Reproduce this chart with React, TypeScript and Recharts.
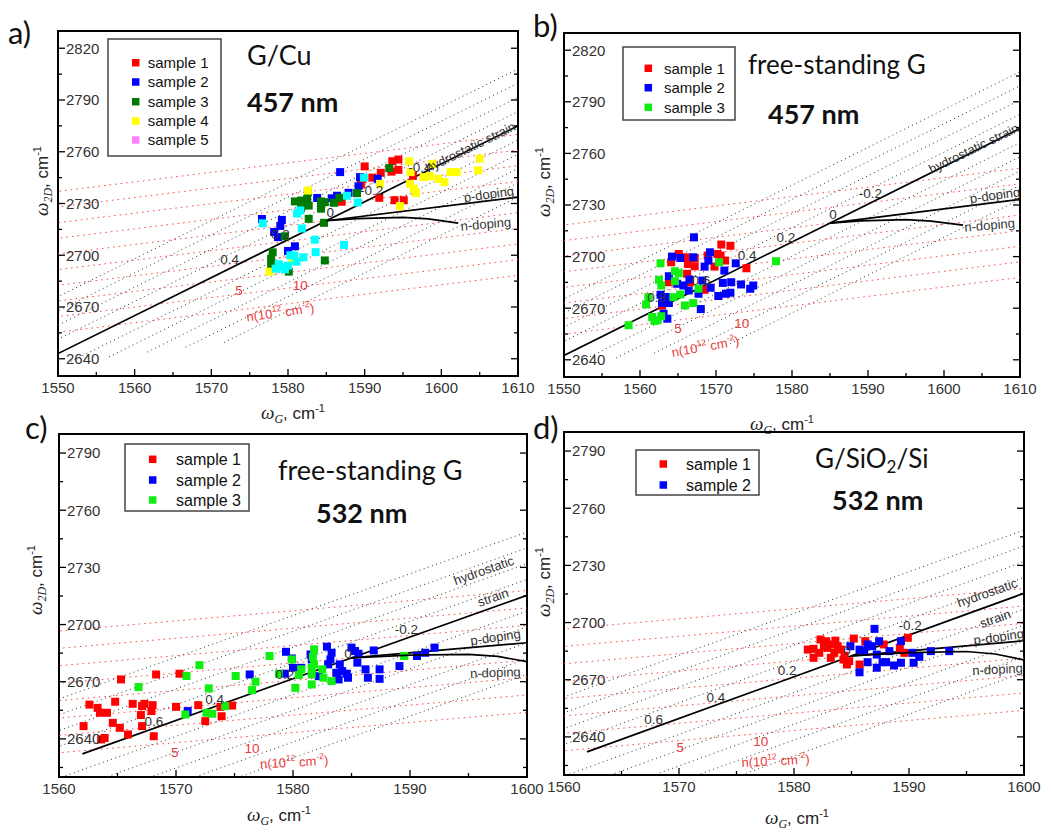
import React from 'react';
import {
  ScatterChart,
  Scatter,
  XAxis,
  YAxis,
  ZAxis,
  ReferenceLine,
  ReferenceArea,
  ReferenceDot,
} from 'recharts';

type Pt = [number, number];

const FONT_SANS = "'Liberation Sans', Arial, sans-serif";
const FONT_TITLE = "Lato, 'Open Sans', sans-serif";
const FONT_SERIF = "'Liberation Serif', 'DejaVu Serif', serif";

// axis ticks
const xTicks457 = [1550, 1555, 1560, 1565, 1570, 1575, 1580, 1585, 1590, 1595, 1600, 1605, 1610];
const xTicks532 = [1560, 1565, 1570, 1575, 1580, 1585, 1590, 1595, 1600];
const yTicks457 = [2640, 2655, 2670, 2685, 2700, 2715, 2730, 2745, 2760, 2775, 2790, 2805, 2820];
const yTicks532 = [2625, 2640, 2655, 2670, 2685, 2700, 2715, 2730, 2745, 2760, 2775, 2790];

// a) G/Cu, 457 nm
const cuSample1: Pt[] = [[1590.0, 2751.5], [1593.6, 2754.5], [1594.4, 2755.5], [1593.5, 2748.5], [1594.4, 2749.5], [1592.1, 2747.8], [1591.9, 2733.3], [1593.9, 2731.9], [1595.1, 2731.9], [1589.5, 2741], [1589.7, 2744], [1596.3, 2746], [1587, 2731], [1591, 2745]];
const cuSample2: Pt[] = [[1586.8, 2748.2], [1583.8, 2733.2], [1585.7, 2733], [1586.4, 2734.5], [1587.9, 2736.2], [1589.2, 2740], [1589.4, 2745.3], [1591.7, 2744.3], [1576.6, 2721], [1579.2, 2720.5], [1579, 2717], [1578.2, 2713.5], [1578.7, 2710.5], [1580.9, 2705.2], [1580, 2702.5]];
const cuSample3: Pt[] = [[1580.9, 2731.2], [1581.7, 2731.7], [1582.5, 2732.7], [1582.7, 2728.8], [1581.7, 2727.3], [1584.3, 2731.2], [1584.8, 2730.8], [1584.3, 2727], [1586, 2730.4], [1586.7, 2733.3], [1589, 2736], [1593.2, 2750.5], [1582.7, 2721.1], [1584.7, 2718.8], [1579.6, 2711], [1578, 2701.7], [1577.8, 2698], [1577.8, 2694], [1580.1, 2690.5], [1584.8, 2697], [1582.6, 2736.5]];
const cuSample4: Pt[] = [[1582.6, 2737.5], [1595.8, 2754.5], [1596, 2748.2], [1595.9, 2741.4], [1596.4, 2738.5], [1596.7, 2736.2], [1597.7, 2745.3], [1598.5, 2745.9], [1599.6, 2744.3], [1600.4, 2742.4], [1601.2, 2748.2], [1602, 2748.2], [1598.8, 2753], [1605, 2756], [1604.8, 2749.2], [1592, 2741.4], [1594.6, 2728.5], [1577.6, 2690.5], [1580.5, 2697]];
const cuSample5: Pt[] = [[1576.7, 2718.5], [1581.2, 2724.2], [1581.6, 2726], [1581.8, 2715.5], [1583.5, 2709], [1583.6, 2701.8], [1587.3, 2706], [1589.1, 2730.6], [1589.9, 2745], [1587.7, 2734.5], [1580.3, 2700], [1580.8, 2699.8], [1582, 2698.8], [1581.1, 2696.3], [1578.4, 2692.2], [1579, 2693], [1580, 2694], [1579.6, 2691.8], [1578.8, 2694.8]];

// b) free-standing G, 457 nm
const fs457Sample1: Pt[] = [[1570.7, 2707], [1571.9, 2706.3], [1565.1, 2701.5], [1566, 2699.6], [1566.3, 2695.7], [1567.2, 2699.2], [1567.2, 2694.4], [1564.1, 2696.7], [1568.9, 2700.6], [1570.2, 2701.5], [1570.6, 2700.6], [1571.2, 2697.7], [1569.8, 2694.2], [1574, 2693.2], [1563.8, 2685.1], [1566.6, 2685.1], [1568.5, 2680.7], [1562.9, 2671.5], [1566.2, 2690]];
const fs457Sample2: Pt[] = [[1567.1, 2711.2], [1564.2, 2700], [1565.3, 2699.2], [1567, 2699.6], [1569, 2697.7], [1568.5, 2694.2], [1569.2, 2702.5], [1572.6, 2696.1], [1571.1, 2691.9], [1563.8, 2688.6], [1564.9, 2684.2], [1565.7, 2683.2], [1566.4, 2680.3], [1566.5, 2686.7], [1568.2, 2686.1], [1567.7, 2678.4], [1569.3, 2681.9], [1570.9, 2684.7], [1572, 2685.1], [1573.3, 2683.8], [1574.5, 2681.3], [1574.9, 2683.2], [1570.3, 2677.1], [1571.3, 2678.4], [1571.9, 2679], [1568, 2669.5], [1562.7, 2677.8], [1563.4, 2676.5], [1562.9, 2673], [1563.8, 2673], [1563.1, 2666.8], [1563.6, 2663.9]];
const fs457Sample3: Pt[] = [[1558.5, 2660.1], [1560.8, 2672.2], [1561.1, 2676.4], [1561.6, 2664.9], [1562.3, 2663], [1562.8, 2665.3], [1561.9, 2662.6], [1562.5, 2686.5], [1562.8, 2683.2], [1562.7, 2696.1], [1564.6, 2691.5], [1565.1, 2690.3], [1564.6, 2685.7], [1564.4, 2676.4], [1565.3, 2678], [1565.9, 2671.6], [1567, 2673], [1567.7, 2681.3], [1570.4, 2696.7], [1577.9, 2697.3]];

// c) free-standing G, 532 nm
const fs532Sample1: Pt[] = [[1562.1, 2646.7], [1562.6, 2658], [1563.3, 2656.3], [1563.5, 2653.7], [1564.1, 2653.7], [1563.6, 2639.7], [1563.9, 2640.5], [1564.6, 2648.4], [1565.2, 2645.8], [1564.8, 2659.5], [1565.3, 2671.2], [1565.9, 2642.3], [1566.3, 2658.4], [1567.1, 2657.2], [1567.3, 2658.4], [1567, 2652.5], [1567.1, 2646.7], [1568, 2657.7], [1567.9, 2654.6], [1568.1, 2641.4], [1568.3, 2673.8], [1570, 2656.8], [1570.3, 2674.2], [1571.9, 2657.7], [1572.5, 2649.3], [1573.8, 2656.8], [1573.9, 2651.9], [1574.8, 2657.5]];
const fs532Sample2: Pt[] = [[1571, 2654.6], [1576.3, 2673.8], [1579.4, 2685.7], [1579.9, 2682.2], [1580, 2677.3], [1580.7, 2677.3], [1579.3, 2674.2], [1581.5, 2684.3], [1581.6, 2681.7], [1582.2, 2672.9], [1582.9, 2688.4], [1583.3, 2685.2], [1583.2, 2681.7], [1583, 2679.1], [1584, 2679.1], [1584.2, 2675.6], [1583.7, 2674.7], [1584.6, 2674.2], [1585, 2687.9], [1585.3, 2686.1], [1585.6, 2684.7], [1585.5, 2680], [1586.9, 2686.4], [1586.2, 2676.5], [1586.4, 2672.1], [1587.4, 2676.5], [1587.4, 2671.5], [1589.1, 2678.2], [1590.6, 2683.5], [1591.3, 2685.2], [1592.1, 2687.9], [1583.9, 2671.2], [1584.7, 2672.1]];
const fs532Sample3: Pt[] = [[1566.8, 2667.2], [1570.9, 2673], [1572, 2678.7], [1572.8, 2666.5], [1570.8, 2652.8], [1572.6, 2653.7], [1573.1, 2653.2], [1574.2, 2657.2], [1575.1, 2673], [1576.5, 2665.6], [1576.8, 2670], [1578, 2683.5], [1578.8, 2674.2], [1579.9, 2681.7], [1580.2, 2666.8], [1580.7, 2676.5], [1580.5, 2673.5], [1581.6, 2677.3], [1581.6, 2673.8], [1581.6, 2668.6], [1581.8, 2687], [1581.7, 2683], [1581.8, 2679.1], [1582.5, 2676.5], [1582.6, 2672.1], [1583.3, 2670.3], [1589.5, 2683.5]];

// d) G/SiO2/Si, 532 nm
const sioSample1: Pt[] = [[1581.2, 2685.8], [1581.7, 2686.2], [1581.7, 2681.5], [1582.3, 2691.1], [1582.8, 2690.2], [1582.9, 2686.7], [1582.2, 2684.1], [1583.2, 2688.5], [1583.5, 2684.1], [1583.8, 2687.6], [1584.1, 2685.8], [1583.2, 2681.5], [1584.3, 2680.6], [1584.6, 2678], [1584.8, 2679.7], [1585.2, 2691.6], [1586.2, 2690.2], [1587.8, 2688.5], [1585.7, 2678], [1589.2, 2686.7], [1589.9, 2692], [1589.6, 2684.1], [1582.6, 2688], [1583.6, 2690.5], [1584.4, 2682.6]];
const sioSample2: Pt[] = [[1587, 2696.7], [1584.9, 2687.6], [1585.7, 2685.8], [1586.1, 2685], [1586.4, 2688.5], [1586.8, 2687.6], [1587.4, 2690.2], [1588.3, 2685], [1587.2, 2683.2], [1587.7, 2679.2], [1586.4, 2679.2], [1587.2, 2676.3], [1588, 2679.2], [1585.7, 2673.9], [1588.7, 2677.5], [1589.3, 2678.9], [1589.3, 2690.2], [1590.4, 2678.9], [1590.3, 2684.1], [1590.9, 2682], [1591.9, 2685], [1593.5, 2685]];

// n-doping branches
const nDopingCu: Pt[] = [[1585, 2720], [1589, 2721.2], [1595, 2722], [1598.3, 2721.1], [1602.2, 2718.6]];
const nDopingFs457: Pt[] = [[1585, 2719.5], [1589, 2720.8], [1595, 2721.5], [1598.3, 2720.6], [1602.5, 2718.3]];
const nDopingFs532: Pt[] = [[1585, 2682.5], [1590, 2684], [1595, 2684.3], [1597.5, 2683.3], [1600, 2680.5]];
const nDopingSio: Pt[] = [[1585, 2682.5], [1590, 2684.2], [1595, 2684.8], [1597.5, 2683.5], [1600, 2680.4]];

// iso-strain (%) and iso-doping (1e12 cm^-2) levels of the mesh
const strainLevelsCu = [-0.8, -0.6, -0.4, -0.2, 0, 0.2, 0.4, 0.6, 0.8, 1.0];
const strainLevelsFs457 = [-0.4, -0.2, 0, 0.2, 0.4, 0.6, 0.8, 1.0];
const strainLevels532 = [-0.6, -0.4, -0.2, 0, 0.2, 0.4, 0.6, 0.8];
const dopingLevels = [-10, -7.5, -5, -2.5, 2.5, 5, 7.5, 10, 12.5];

type Model = {
  g0: number; // strain- and doping-free point
  w0: number;
  strainSlope: number; // d(w2D)/d(wG) for hydrostatic strain
  dopingSlope: number; // d(w2D)/d(wG) for p-doping
  gPerStrain: number; // G shift per 1 % strain
  gPerDoping: number; // G shift per 1e12 cm^-2
  strainFrom: number;
  strainTo: number;
};

const modelCu: Model = { g0: 1585, w0: 2720, strainSlope: 2.2, dopingSlope: 0.55, gPerStrain: 27.5, gPerDoping: 2, strainFrom: 1550, strainTo: 1610 };
const modelFs457: Model = { g0: 1585, w0: 2719.5, strainSlope: 2.2, dopingSlope: 0.55, gPerStrain: 27.5, gPerDoping: 2, strainFrom: 1550, strainTo: 1610 };
const model532: Model = { g0: 1585, w0: 2682.5, strainSlope: 2.19, dopingSlope: 0.53, gPerStrain: 27.5, gPerDoping: 2, strainFrom: 1562, strainTo: 1600 };

type Note = { x: number; y: number; text: string; kind: 'strain' | 'n' | 'unit' | 'line'; angle?: number };

const notesCu: Note[] = [
  { x: 1572.4, y: 2697.8, text: '0.4', kind: 'strain' },
  { x: 1579, y: 2712.3, text: '0.2', kind: 'strain' },
  { x: 1585.5, y: 2725, text: '0', kind: 'strain' },
  { x: 1590.9, y: 2737.5, text: '-0.2', kind: 'strain' },
  { x: 1597.2, y: 2751.1, text: '-0.4', kind: 'strain' },
  { x: 1573.6, y: 2679.5, text: '5', kind: 'n' },
  { x: 1581.6, y: 2682.4, text: '10', kind: 'n' },
  { x: 1579, y: 2666.9, text: '', kind: 'unit', angle: -8 },
  { x: 1603.8, y: 2762.7, text: 'hydrostatic strain', kind: 'line', angle: -26 },
  { x: 1606.2, y: 2735.4, text: 'p-doping', kind: 'line', angle: -8 },
  { x: 1605.8, y: 2718.1, text: 'n-doping', kind: 'line', angle: -5 },
];
const notesFs457: Note[] = [
  { x: 1590.3, y: 2736.7, text: '-0.2', kind: 'strain' },
  { x: 1585.4, y: 2724.7, text: '0', kind: 'strain' },
  { x: 1579.2, y: 2711.2, text: '0.2', kind: 'strain' },
  { x: 1574.1, y: 2701, text: '0.4', kind: 'strain' },
  { x: 1568, y: 2686.5, text: '0.6', kind: 'strain' },
  { x: 1562.2, y: 2676.5, text: '0.8', kind: 'strain' },
  { x: 1565, y: 2658.1, text: '5', kind: 'n' },
  { x: 1573.4, y: 2661.4, text: '10', kind: 'n' },
  { x: 1568.6, y: 2647.7, text: '', kind: 'unit', angle: -10 },
  { x: 1603.9, y: 2762.9, text: 'hydrostatic strain', kind: 'line', angle: -26 },
  { x: 1606.7, y: 2735.7, text: 'p-doping', kind: 'line', angle: -8 },
  { x: 1606, y: 2718.3, text: 'n-doping', kind: 'line', angle: -5 },
];
const notesFs532: Note[] = [
  { x: 1589.7, y: 2697.3, text: '-0.2', kind: 'strain' },
  { x: 1584.7, y: 2685, text: '0', kind: 'strain' },
  { x: 1579.3, y: 2673.9, text: '0.2', kind: 'strain' },
  { x: 1573.3, y: 2660.7, text: '0.4', kind: 'strain' },
  { x: 1568.1, y: 2649.3, text: '0.6', kind: 'strain' },
  { x: 1569.9, y: 2633, text: '5', kind: 'n' },
  { x: 1576.5, y: 2635.2, text: '10', kind: 'n' },
  { x: 1580.1, y: 2627.8, text: '', kind: 'unit', angle: -3 },
  { x: 1596.3, y: 2728.4, text: 'hydrostatic', kind: 'line', angle: -19.5 },
  { x: 1597.1, y: 2714.3, text: 'strain', kind: 'line', angle: -19.5 },
  { x: 1597.3, y: 2693.4, text: 'p-doping', kind: 'line', angle: -8 },
  { x: 1597.3, y: 2674.8, text: 'n-doping', kind: 'line', angle: -2 },
];
const notesSio: Note[] = [
  { x: 1590.1, y: 2698.4, text: '-0.2', kind: 'strain' },
  { x: 1584.6, y: 2685.5, text: '0', kind: 'strain' },
  { x: 1579.4, y: 2674.8, text: '0.2', kind: 'strain' },
  { x: 1573.2, y: 2660.8, text: '0.4', kind: 'strain' },
  { x: 1567.8, y: 2649.2, text: '0.6', kind: 'strain' },
  { x: 1570.1, y: 2634.5, text: '5', kind: 'n' },
  { x: 1577.1, y: 2637.6, text: '10', kind: 'n' },
  { x: 1578.4, y: 2627.5, text: '', kind: 'unit', angle: -3 },
  { x: 1596.8, y: 2715.6, text: 'hydrostatic', kind: 'line', angle: -19.5 },
  { x: 1597.5, y: 2702.1, text: 'strain', kind: 'line', angle: -19.5 },
  { x: 1597.8, y: 2692.5, text: 'p-doping', kind: 'line', angle: -8 },
  { x: 1597.7, y: 2675.5, text: 'n-doping', kind: 'line', angle: -3 },
];

type Series = { name: string; data: Pt[]; color: string };
type Box = { left: number; top: number; width: number; height: number };
type Plot = { left: number; top: number; right: number; bottom: number };

type PanelCfg = {
  box: Box;
  plot: Plot;
  xDomain: [number, number];
  yDomain: [number, number];
  xTicks: number[];
  yTicks: number[];
  series: Series[];
  model: Model;
  strainLevels: number[];
  nDoping: Pt[];
  notes: Note[];
  markerArea: number;
};

const XH = 20;

const panels: PanelCfg[] = [
  {
    box: { left: 0, top: 0, width: 535, height: 400 },
    plot: { left: 58, top: 31, right: 518, bottom: 376 },
    xDomain: [1550, 1610],
    yDomain: [2630, 2830],
    xTicks: xTicks457,
    yTicks: yTicks457,
    series: [
      { name: 'sample 1', data: cuSample1, color: '#ff0000' },
      { name: 'sample 2', data: cuSample2, color: '#0000ff' },
      { name: 'sample 3', data: cuSample3, color: '#007a00' },
      { name: 'sample 4', data: cuSample4, color: '#ffff00' },
      { name: 'sample 5', data: cuSample5, color: '#00ffff' },
    ],
    model: modelCu,
    strainLevels: strainLevelsCu,
    nDoping: nDopingCu,
    notes: notesCu,
    markerArea: 62,
  },
  {
    box: { left: 535, top: 0, width: 516, height: 400 },
    plot: { left: 564, top: 33, right: 1020, bottom: 377 },
    xDomain: [1550, 1610],
    yDomain: [2630, 2830],
    xTicks: xTicks457,
    yTicks: yTicks457,
    series: [
      { name: 'sample 1', data: fs457Sample1, color: '#ff0000' },
      { name: 'sample 2', data: fs457Sample2, color: '#0000ff' },
      { name: 'sample 3', data: fs457Sample3, color: '#11ee11' },
    ],
    model: modelFs457,
    strainLevels: strainLevelsFs457,
    nDoping: nDopingFs457,
    notes: notesFs457,
    markerArea: 62,
  },
  {
    box: { left: 0, top: 400, width: 548, height: 433 },
    plot: { left: 59, top: 434, right: 527, bottom: 777 },
    xDomain: [1560, 1600],
    yDomain: [2620, 2800],
    xTicks: xTicks532,
    yTicks: yTicks532,
    series: [
      { name: 'sample 1', data: fs532Sample1, color: '#ff0000' },
      { name: 'sample 2', data: fs532Sample2, color: '#0000ff' },
      { name: 'sample 3', data: fs532Sample3, color: '#11ee11' },
    ],
    model: model532,
    strainLevels: strainLevels532,
    nDoping: nDopingFs532,
    notes: notesFs532,
    markerArea: 56,
  },
  {
    box: { left: 535, top: 400, width: 516, height: 433 },
    plot: { left: 564, top: 432, right: 1024, bottom: 775 },
    xDomain: [1560, 1600],
    yDomain: [2620, 2800],
    xTicks: xTicks532,
    yTicks: yTicks532,
    series: [
      { name: 'sample 1', data: sioSample1, color: '#ff0000' },
      { name: 'sample 2', data: sioSample2, color: '#0000ff' },
    ],
    model: model532,
    strainLevels: strainLevels532,
    nDoping: nDopingSio,
    notes: notesSio,
    markerArea: 56,
  },
];

// point of the strain/doping mesh for a given strain (%) and doping (1e12 cm^-2)
const meshPoint = (m: Model, eps: number, n: number) => ({
  x: m.g0 - m.gPerStrain * eps + m.gPerDoping * n,
  y: m.w0 - m.gPerStrain * m.strainSlope * eps + m.gPerDoping * m.dopingSlope * n,
});

const toXY = (pts: Pt[]) => pts.map(([x, y]) => ({ x, y }));

function renderNote(cx: number, cy: number, note: Note) {
  const rot = note.angle ? `rotate(${note.angle} ${cx} ${cy})` : undefined;
  if (note.kind === 'unit') {
    return (
      <text x={cx} y={cy} transform={rot} textAnchor="middle" dy="0.35em" fontFamily={FONT_SANS} fontSize={13} fill="#e83a3a">
        n(10
        <tspan dy={-6} fontSize={8.5}>12</tspan>
        <tspan dy={6}> cm</tspan>
        <tspan dy={-6} fontSize={8.5}>-2</tspan>
        <tspan dy={6}>)</tspan>
      </text>
    );
  }
  const style =
    note.kind === 'strain'
      ? { fill: '#333', fontSize: 13.5 }
      : note.kind === 'n'
        ? { fill: '#e83a3a', fontSize: 13.5 }
        : { fill: '#333', fontSize: 13 };
  return (
    <text x={cx} y={cy} transform={rot} textAnchor="middle" dy="0.35em" fontFamily={FONT_SANS} {...style}>
      {note.text}
    </text>
  );
}

function Panel({ cfg }: { cfg: PanelCfg }) {
  const { box, plot, model: m } = cfg;
  const margin = {
    top: plot.top - box.top,
    left: plot.left - box.left,
    right: box.left + box.width - plot.right,
    bottom: box.top + box.height - plot.bottom - XH,
  };
  const left = margin.left;
  const right = box.width - margin.right;
  const bottom = box.height - margin.bottom - XH;

  const xTick = (props: any) => {
    const { x, payload } = props;
    const major = payload.value % 10 === 0;
    return (
      <g>
        <line x1={x} x2={x} y1={bottom} y2={bottom - (major ? 7 : 4)} stroke="#000" strokeWidth={1.3} />
        {major && (
          <text x={x} y={bottom + 17} textAnchor="middle" fontFamily={FONT_SANS} fontSize={15} fill="#333">
            {payload.value}
          </text>
        )}
      </g>
    );
  };

  const yTick = (props: any) => {
    const { y, payload } = props;
    const major = (payload.value - 2640) % 30 === 0;
    const len = major ? 7 : 4;
    return (
      <g>
        <line x1={left} x2={left + len} y1={y} y2={y} stroke="#000" strokeWidth={1.3} />
        <line x1={right} x2={right - len} y1={y} y2={y} stroke="#000" strokeWidth={1.3} />
        {major && (
          <text x={left + 8} y={y} dy="0.36em" textAnchor="start" fontFamily={FONT_SANS} fontSize={15} fill="#333">
            {payload.value}
          </text>
        )}
      </g>
    );
  };

  const [xMin, xMax] = cfg.xDomain;

  return (
    <div style={{ position: 'absolute', left: box.left, top: box.top }}>
      <ScatterChart width={box.width} height={box.height} margin={margin}>
        <XAxis
          type="number"
          dataKey="x"
          domain={cfg.xDomain}
          ticks={cfg.xTicks}
          interval={0}
          allowDataOverflow
          axisLine={false}
          tickLine={false}
          tick={xTick}
          height={XH}
        />
        <YAxis
          type="number"
          dataKey="y"
          domain={cfg.yDomain}
          ticks={cfg.yTicks}
          interval={0}
          allowDataOverflow
          mirror
          width={1}
          axisLine={false}
          tickLine={false}
          tick={yTick}
        />
        <ZAxis range={[cfg.markerArea, cfg.markerArea]} />

        {/* lines of constant strain */}
        {cfg.strainLevels.map((eps) => (
          <ReferenceLine
            key={`eps${eps}`}
            segment={[meshPoint(m, eps, -40), meshPoint(m, eps, 40)]}
            stroke="#ff4a4a"
            strokeWidth={1}
            strokeDasharray="1.6 4"
            ifOverflow="hidden"
          />
        ))}
        {/* lines of constant doping */}
        {dopingLevels.map((n) => (
          <ReferenceLine
            key={`n${n}`}
            segment={[meshPoint(m, -2.5, n), meshPoint(m, 1.4, n)]}
            stroke="#333"
            strokeWidth={1}
            strokeDasharray="1 3.4"
            ifOverflow="hidden"
          />
        ))}

        {cfg.series.map((s) => (
          <Scatter key={s.name} name={s.name} data={toXY(s.data)} fill={s.color} shape="square" isAnimationActive={false} />
        ))}

        {/* hydrostatic strain and p-doping */}
        <ReferenceLine
          segment={[
            { x: m.strainFrom, y: m.w0 + m.strainSlope * (m.strainFrom - m.g0) },
            { x: m.strainTo, y: m.w0 + m.strainSlope * (m.strainTo - m.g0) },
          ]}
          stroke="#000"
          strokeWidth={1.7}
          ifOverflow="hidden"
        />
        <ReferenceLine
          segment={[
            { x: m.g0, y: m.w0 },
            { x: xMax, y: m.w0 + m.dopingSlope * (xMax - m.g0) },
          ]}
          stroke="#000"
          strokeWidth={1.7}
          ifOverflow="hidden"
        />
        <Scatter
          data={toXY(cfg.nDoping)}
          line={{ stroke: '#000', strokeWidth: 1.7 }}
          lineType="joint"
          shape={() => <g />}
          isAnimationActive={false}
        />

        {cfg.notes.map((note, i) => (
          <ReferenceDot
            key={`note${i}`}
            x={note.x}
            y={note.y}
            r={0}
            ifOverflow="visible"
            shape={(p: any) => renderNote(p.cx, p.cy, note)}
          />
        ))}

        <ReferenceArea
          x1={xMin}
          x2={xMax}
          y1={cfg.yDomain[0]}
          y2={cfg.yDomain[1]}
          fill="none"
          fillOpacity={0}
          stroke="#000"
          strokeWidth={2}
          ifOverflow="visible"
        />
      </ScatterChart>
    </div>
  );
}

type LegendItem = { label: string; color: string };

function LegendBox(props: {
  x: number; y: number; w: number; h: number;
  rows: number[]; markerX: number; textX: number; fontSize: number;
  items: LegendItem[];
}) {
  const { x, y, w, h, rows, markerX, textX, fontSize, items } = props;
  return (
    <g>
      <rect x={x} y={y} width={w} height={h} fill="#fff" stroke="#444" strokeWidth={1.5} />
      {items.map((it, i) => (
        <g key={it.label}>
          <rect x={markerX - 3.75} y={rows[i] - 3.75} width={7.5} height={7.5} fill={it.color} />
          <text x={textX} y={rows[i]} dy="0.36em" fontFamily={FONT_SANS} fontSize={fontSize} fill="#111">
            {it.label}
          </text>
        </g>
      ))}
    </g>
  );
}

function XLabel({ cx, cy }: { cx: number; cy: number }) {
  return (
    <text x={cx} y={cy} dy="0.35em" textAnchor="middle" fontFamily={FONT_SANS} fontSize={17} fill="#222">
      <tspan fontFamily={FONT_SERIF} fontStyle="italic" fontSize={19}>ω</tspan>
      <tspan fontFamily={FONT_SERIF} fontStyle="italic" fontSize={12} dy={4}>G</tspan>
      <tspan dy={-4}>, cm</tspan>
      <tspan fontSize={11} dy={-7}>-1</tspan>
    </text>
  );
}

function YLabel({ cx, cy }: { cx: number; cy: number }) {
  return (
    <text
      transform={`translate(${cx},${cy}) rotate(-90)`}
      x={0}
      y={0}
      dy="0.35em"
      textAnchor="middle"
      fontFamily={FONT_SANS}
      fontSize={17}
      fill="#222"
    >
      <tspan fontFamily={FONT_SERIF} fontStyle="italic" fontSize={19}>ω</tspan>
      <tspan fontFamily={FONT_SERIF} fontStyle="italic" fontSize={12} dy={4}>2D</tspan>
      <tspan dy={-4}>, cm</tspan>
      <tspan fontSize={11} dy={-7}>-1</tspan>
    </text>
  );
}

const legendCu: LegendItem[] = [
  { label: 'sample 1', color: '#ff0000' },
  { label: 'sample 2', color: '#0000ff' },
  { label: 'sample 3', color: '#007a00' },
  { label: 'sample 4', color: '#ffff00' },
  { label: 'sample 5', color: '#ff80ff' },
];
const legendThree: LegendItem[] = [
  { label: 'sample 1', color: '#ff0000' },
  { label: 'sample 2', color: '#0000ff' },
  { label: 'sample 3', color: '#11ee11' },
];
const legendTwo: LegendItem[] = [
  { label: 'sample 1', color: '#ff0000' },
  { label: 'sample 2', color: '#0000ff' },
];

function Overlay() {
  const title = { fontFamily: FONT_TITLE, fill: '#111' };
  return (
    <svg width={1051} height={833} style={{ position: 'absolute', left: 0, top: 0 }}>
      {/* panel letters */}
      <text x={8} y={44} fontFamily={FONT_TITLE} fontSize={31} fill="#111">a)</text>
      <text x={533} y={37} fontFamily={FONT_TITLE} fontSize={31} fill="#111">b)</text>
      <text x={25} y={439} fontFamily={FONT_TITLE} fontSize={31} fill="#111">c)</text>
      <text x={533} y={439} fontFamily={FONT_TITLE} fontSize={31} fill="#111">d)</text>

      {/* sample / wavelength titles */}
      <text x={247} y={65} fontSize={27} {...title}>G/Cu</text>
      <text x={247} y={112} fontSize={27} fontWeight="bold" {...title}>457 nm</text>
      <text x={748} y={74} fontSize={26} {...title}>free-standing G</text>
      <text x={768} y={124} fontSize={27} fontWeight="bold" {...title}>457 nm</text>
      <text x={278} y={480} fontSize={27} {...title}>free-standing G</text>
      <text x={316} y={523} fontSize={27} fontWeight="bold" {...title}>532 nm</text>
      <text x={815} y={468} fontSize={26} {...title}>
        G/SiO<tspan fontSize={17} dy={5}>2</tspan><tspan dy={-5}>/Si</tspan>
      </text>
      <text x={832} y={510} fontSize={27} fontWeight="bold" {...title}>532 nm</text>

      {/* axis titles */}
      <YLabel cx={42} cy={181} />
      <YLabel cx={544} cy={182} />
      <YLabel cx={36} cy={580} />
      <YLabel cx={544} cy={582} />
      <XLabel cx={293} cy={413} />
      <XLabel cx={782} cy={424} />
      <XLabel cx={279} cy={815} />
      <XLabel cx={797} cy={818} />

      {/* legends */}
      <LegendBox x={108} y={39} w={113} h={117} rows={[62.7, 82, 101.7, 121, 140]} markerX={135.7} textX={147.7} fontSize={15} items={legendCu} />
      <LegendBox x={623} y={47} w={112} h={73} rows={[68.3, 87.7, 107.3]} markerX={648.3} textX={664} fontSize={15} items={legendThree} />
      <LegendBox x={125} y={444} w={124} h={67} rows={[459.3, 480, 500]} markerX={152.7} textX={176} fontSize={16} items={legendThree} />
      <LegendBox x={636} y={450} w={123} h={45} rows={[464, 485]} markerX={663.3} textX={686} fontSize={16} items={legendTwo} />
    </svg>
  );
}

export default function App() {
  return (
    <div style={{ position: 'absolute', left: 0, top: 0, width: 1051, height: 833, background: '#fff' }}>
      <Overlay />
      {panels.map((cfg, i) => (
        <Panel key={i} cfg={cfg} />
      ))}
    </div>
  );
}
